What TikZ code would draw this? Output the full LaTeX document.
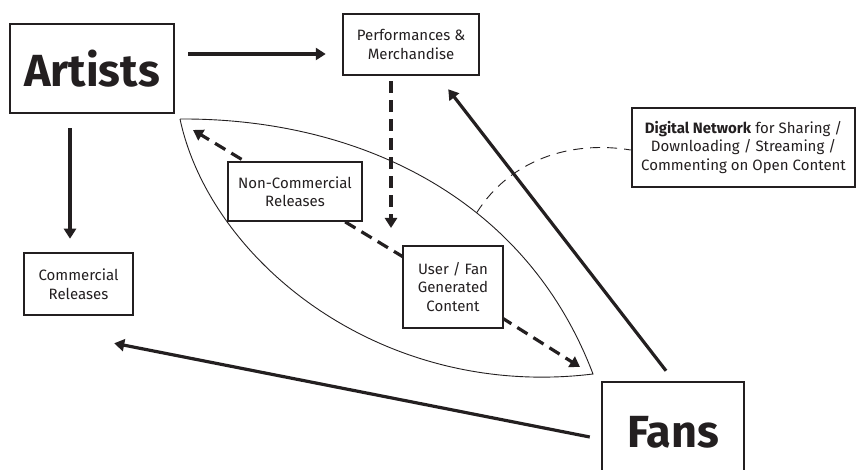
\documentclass[tikz,border=0pt]{standalone}
\usepackage{fontspec}
\setmainfont{Fira Sans}
\usetikzlibrary{arrows.meta,backgrounds}
\definecolor{ink}{HTML}{231F20}
\begin{document}
\begin{tikzpicture}[x=1pt,y=-1pt,
  box/.style={draw=ink, line width=2.5pt, fill=white, inner sep=0pt, align=center, text=ink,
    font=\fontsize{15}{18.5}\selectfont},
  bigbox/.style={box, font=\fontsize{45}{50}\selectfont\bfseries},
  arr/.style={draw=ink, line width=3.2pt, -{Triangle[length=10pt,width=12pt]}},
  dasharr/.style={arr, dash pattern=on 12pt off 7pt},
  lens/.style={draw=ink, line width=0.9pt},
  netlink/.style={draw=ink, line width=0.9pt, dash pattern=on 10pt off 7pt}]
\useasboundingbox (0,0) rectangle (861,470);
\clip (0,0) rectangle (861,470);

% lens shaped open-content region
\draw[lens] (180,119) .. controls (355,118) and (525,195) .. (593,374) coordinate[pos=0.62] (lensA)
  .. controls (380,400) and (210,260) .. (180,119);

% nodes
\node[bigbox, minimum width=164pt, minimum height=89pt] (artists) at (92,68.5) {Artists};
\node[bigbox, minimum width=142pt, minimum height=100pt] (fans) at (673,432) {Fans};
\node[box, minimum width=136pt, minimum height=61pt] (perf) at (411,44.5) {Performances \&\\Merchandise};
\node[box, minimum width=223pt, minimum height=79pt] (digital) at (743.5,147.5)
  {\textbf{Digital Network} for Sharing /\\Downloading / Streaming /\\Commenting on Open Content};
\node[box, minimum width=134pt, minimum height=59pt] (noncom) at (295,191.5) {Non-Commercial\\Releases};
\node[box, minimum width=100pt, minimum height=82pt] (userfan) at (453,287) {User / Fan\\Generated\\Content};
\node[box, minimum width=109pt, minimum height=62pt] (commercial) at (78.5,284) {Commercial\\Releases};

\coordinate (tipA) at (193,130);
\coordinate (tipB) at (580,367);
\coordinate (perfEnd) at (391,228);

% connectors
\draw[arr] ([xshift=13pt,yshift=14.5pt]artists.east) -- ([xshift=-16pt,yshift=-9.5pt]perf.west);
\draw[arr] ([xshift=-22pt,yshift=-14pt]artists.south) -- ([xshift=-8.5pt,yshift=13pt]commercial.north);
\draw[arr] ([xshift=-11pt,yshift=-5pt]fans.west) -- ([xshift=-20pt,yshift=-27pt]commercial.south east);
\draw[arr] ([xshift=-7pt,yshift=10pt]fans.north) -- ([xshift=-32pt,yshift=-13pt]perf.south east);
\draw[dasharr] ([xshift=-20pt,yshift=-5pt]perf.south) -- (perfEnd);
\begin{scope}[on background layer]
\draw[dasharr] (userfan.center) -- (tipA);
\draw[dasharr] (userfan.center) -- (tipB);
\end{scope}
\draw[netlink] (lensA) .. controls (510,160) and (570,140) .. ([yshift=-2.5pt]digital.west);
\end{tikzpicture}
\end{document}
